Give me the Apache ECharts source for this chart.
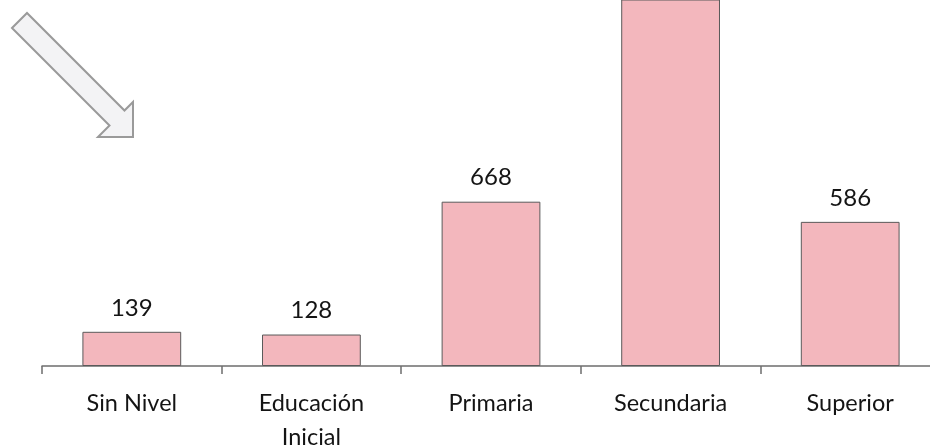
<!DOCTYPE html>
<html><head><meta charset="utf-8">
<script src="https://cdn.jsdelivr.net/npm/echarts@6/dist/echarts.min.js"></script>
<style>html,body{margin:0;padding:0;background:#fff;}#c{width:930px;height:447px;}</style>
</head><body><div id="c"></div>
<script>
const categories = ['Sin Nivel', 'Educación\nInicial', 'Primaria', 'Secundaria', 'Superior'];
const values = [139, 128, 668, 1600, 586];

const chart = echarts.init(document.getElementById('c'), null, {renderer: 'canvas'});
const font = 'Lato, "Open Sans", sans-serif';
chart.setOption({
  animation: false,
  backgroundColor: '#ffffff',
  grid: {left: 42, right: -10, top: 0, bottom: 81, containLabel: false, outerBoundsMode: 'none'},
  xAxis: {
    type: 'category',
    data: categories,
    axisLine: {lineStyle: {color: '#6e6e6e', width: 1.5}},
    axisTick: {show: true, length: 8, lineStyle: {color: '#6e6e6e', width: 1.5}},
    axisLabel: {color: '#141414', fontSize: 23.5, fontFamily: font, margin: 20, lineHeight: 34, interval: 0}
  },
  yAxis: {type: 'value', min: 0, max: 1488, show: false, splitLine: {show: false}},
  graphic: [{
    type: 'polygon',
    shape: {points: [[12,28],[27,13],[124.5,110.5],[133,102],[133,137],[98,137],[109.5,125.5]]},
    style: {fill: '#f3f3f5', stroke: '#9a9a9a', lineWidth: 2}
  }],
  series: [{
    type: 'bar',
    data: values,
    barWidth: '55%',
    clip: true,
    itemStyle: {color: '#f3b7bd', borderColor: '#5a5a5a', borderWidth: 1},
    label: {show: true, position: 'top', distance: 12, color: '#141414', fontSize: 24, fontFamily: font}
  }]
});
</script></body></html>
